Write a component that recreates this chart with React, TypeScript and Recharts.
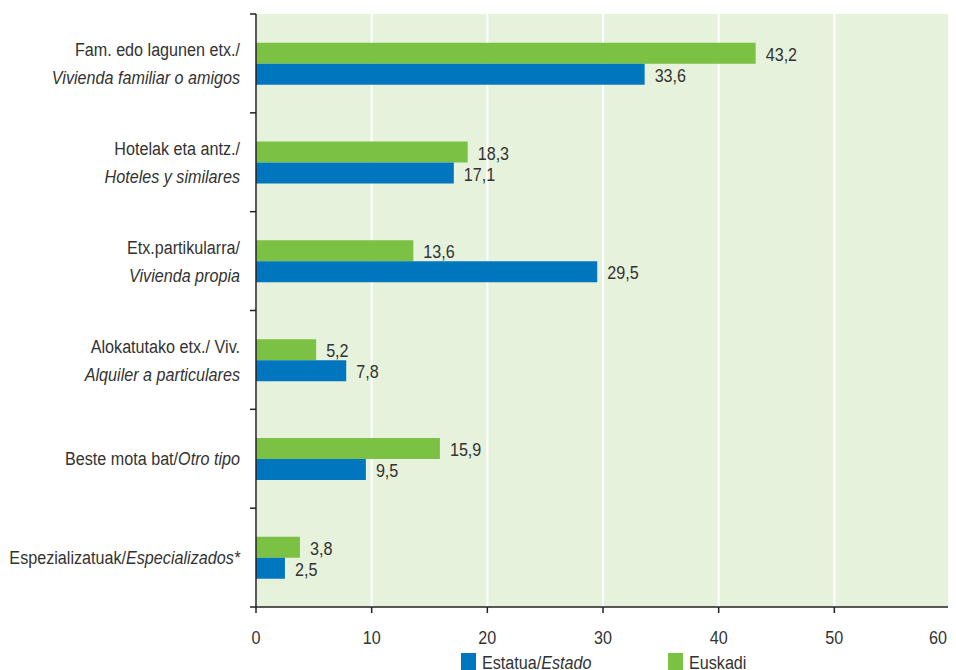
import React from "react";
import { BarChart, Bar, XAxis, YAxis, CartesianGrid, LabelList, Legend } from "recharts";

const categories = [
  "Fam. edo lagunen etx./|_Vivienda familiar o amigos_",
  "Hotelak eta antz./|_Hoteles y similares_",
  "Etx.partikularra/|_Vivienda propia_",
  "Alokatutako etx./ Viv.|_Alquiler a particulares_",
  "Beste mota bat/_Otro tipo_",
  "Espezializatuak/_Especializados*_",
];
const euskadi = [43.2, 18.3, 13.6, 5.2, 15.9, 3.8];
const estado = [33.6, 17.1, 29.5, 7.8, 9.5, 2.5];
const xTicks = [0, 10, 20, 30, 40, 50, 60];
const seriesNames = { estado: "Estatua/_Estado_", euskadi: "Euskadi" };

const data = categories.map((c, i) => ({ cat: c, euskadi: euskadi[i], estado: estado[i] }));

const FONT = "'Liberation Sans', Arial, sans-serif";
const FS = 19;
const SX = 0.85;
const TXT = "#333";
const GREEN = "#7bc143";
const BLUE = "#0076bf";
const BG = "#e6f2dc";

const W = 956;
const H = 670;
const M = { top: 14, right: 6, left: 0, bottom: 0 };
const YW = 256;
const XH = 40;
const LEGH = 23;
const PLOT_H = H - M.top - M.bottom - XH - LEGH;
const TICK_MARGIN = 10;

function parts(s: string) {
  const out: { t: string; i: boolean }[] = [];
  const segs = s.split("_");
  segs.forEach((t, k) => {
    if (t) out.push({ t, i: k % 2 === 1 });
  });
  return out;
}

const fmt = (v: any) => String(v).replace(".", ",");

function SText({ x, y, anchor = "start", label }: { x: number; y: number; anchor?: string; label: string }) {
  return (
    <g transform={`translate(${x},${y}) scale(${SX},1)`}>
      <text x={0} y={0} dy="0.35em" textAnchor={anchor as any} fill={TXT} fontSize={FS} fontFamily={FONT}>
        {parts(label).map((p, j) => (
          <tspan key={j} fontStyle={p.i ? "italic" : "normal"}>{p.t}</tspan>
        ))}
      </text>
    </g>
  );
}

function YTick(props: any) {
  const { x, y, payload, index } = props;
  const lines = String(payload.value).split("|");
  const band = PLOT_H / categories.length;
  const axisX = x + 6 + TICK_MARGIN;
  const lh = 28;
  const y0 = y - ((lines.length - 1) * lh) / 2;
  return (
    <g>
      <line x1={axisX - 6} x2={axisX} y1={y - band / 2} y2={y - band / 2} stroke="#222" strokeWidth={1.5} />
      {index === categories.length - 1 && (
        <line x1={axisX - 6} x2={axisX} y1={y + band / 2} y2={y + band / 2} stroke="#222" strokeWidth={1.5} />
      )}
      {lines.map((ln, k) => (
        <SText key={k} x={x} y={y0 + k * lh} anchor="end" label={ln} />
      ))}
    </g>
  );
}

function XTick(props: any) {
  const { x, y, payload } = props;
  const last = payload.value === xTicks[xTicks.length - 1];
  return <SText x={last ? x - 3 : x} y={y + 14} anchor={last ? "end" : "middle"} label={String(payload.value)} />;
}

function ValueLabel(props: any) {
  const { x, y, width, height, value } = props;
  return <SText x={x + width + 10} y={y + height / 2 + 1} label={fmt(value)} />;
}

function LegendContent() {
  const items = [
    { key: "estado", color: BLUE, label: seriesNames.estado, x: 461 },
    { key: "euskadi", color: GREEN, label: seriesNames.euskadi, x: 668 },
  ];
  return (
    <svg width={W} height={LEGH} style={{ display: "block", overflow: "visible" }}>
      {items.map((it) => (
        <g key={it.key}>
          <rect x={it.x} y={6} width={15} height={17} fill={it.color} />
          <SText x={it.x + 21} y={15} label={it.label} />
        </g>
      ))}
    </svg>
  );
}

export default function App() {
  return (
    <div style={{ width: W, height: H, margin: "-8px 0 0 -8px", overflow: "hidden" }}>
      <BarChart width={W} height={H} data={data} layout="vertical" margin={M} barGap={0} barCategoryGap="29%">
        <CartesianGrid horizontal={false} vertical={true} stroke="#fff" strokeWidth={2} fill={BG} />
        <XAxis
          type="number"
          domain={[0, 60]}
          ticks={xTicks}
          height={XH}
          axisLine={{ stroke: "#222", strokeWidth: 1.5 }}
          tickLine={{ stroke: "#222", strokeWidth: 1.5 }}
          tickSize={6}
          tickMargin={10}
          tick={<XTick />}
          interval={0}
        />
        <YAxis
          type="category"
          dataKey="cat"
          width={YW}
          axisLine={{ stroke: "#222", strokeWidth: 1.5 }}
          tickLine={false}
          tickMargin={TICK_MARGIN}
          tick={<YTick />}
          interval={0}
        />
        <Legend verticalAlign="bottom" height={LEGH} content={<LegendContent />} />
        <Bar dataKey="euskadi" fill={GREEN} isAnimationActive={false}>
          <LabelList dataKey="euskadi" content={<ValueLabel />} />
        </Bar>
        <Bar dataKey="estado" fill={BLUE} isAnimationActive={false}>
          <LabelList dataKey="estado" content={<ValueLabel />} />
        </Bar>
      </BarChart>
    </div>
  );
}
